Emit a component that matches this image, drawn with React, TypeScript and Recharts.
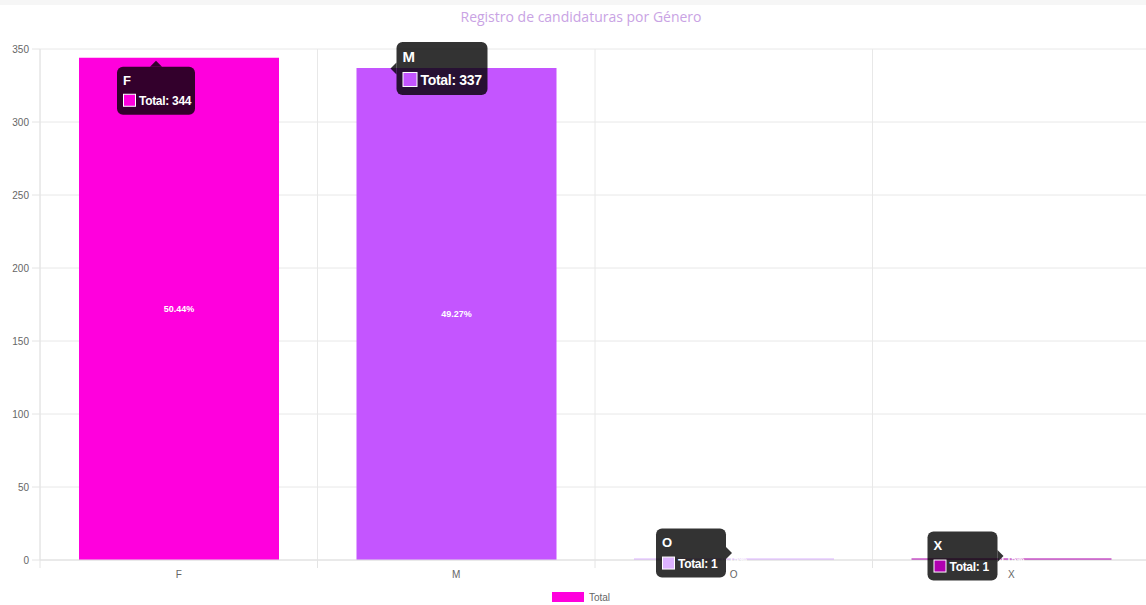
import React from 'react';
import { BarChart, Bar, XAxis, YAxis, CartesianGrid, Legend, LabelList, Cell } from 'recharts';

const categories = ['F', 'M', 'O', 'X'];
const totals = [344, 337, 1, 1];
const percentLabels = ['50.44%', '49.27%', '0.15%', '0.15%'];
const barColors = ['#ff00dd', '#c455ff', '#dcb2ff', '#b000b0'];
const yTicks = [0, 50, 100, 150, 200, 250, 300, 350];
const seriesName = 'Total';
const title = 'Registro de candidaturas por Género';

// where each (hovered) tooltip box sits relative to its bar
const tipLayout = [
  { dx: 38, dy: 9, w: 78, h: 48, caret: 'top', fs: 12 },
  { dx: 40, dy: -26, w: 91, h: 53, caret: 'left', fs: 14 },
  { dx: 22, dy: -30, w: 70, h: 49, caret: 'right', fs: 12 },
  { dx: 16, dy: -27, w: 70, h: 49, caret: 'right', fs: 12 },
];

const data = categories.map((c, i) => ({ name: c, total: totals[i], pct: percentLabels[i] }));

const W = 1150;
const H = 605;
const M = { top: 49, right: 0, left: 0, bottom: 3 };
const Y_W = 40;
const HALF_STEP = (W - Y_W) / categories.length / 2;
const FONT = '"Liberation Sans", Arial, sans-serif';

const XTick = (props: any) => {
  const { x, y, payload, index } = props;
  return (
    <g>
      <line x1={x - HALF_STEP} x2={x - HALF_STEP} y1={y} y2={y + 8} stroke="#e4e4e4" />
      {index === categories.length - 1 && (
        <line x1={x + HALF_STEP} x2={x + HALF_STEP} y1={y} y2={y + 8} stroke="#e4e4e4" />
      )}
      <text x={x} y={y + 18} textAnchor="middle" fontSize={10} fill="#666" fontFamily={FONT}>
        {payload.value}
      </text>
    </g>
  );
};

const TipBox = (props: any) => {
  const { x, y, value } = props;
  const i = categories.indexOf(value);
  if (i < 0) return null;
  const t = tipLayout[i];
  const bx = x + t.dx;
  const by = y + t.dy;
  let caret = '';
  if (t.caret === 'top') {
    const cx = bx + t.w / 2;
    caret = `M${cx - 6},${by} L${cx},${by - 6} L${cx + 6},${by} Z`;
  } else if (t.caret === 'left') {
    const cy = by + t.h / 2;
    caret = `M${bx},${cy - 6} L${bx - 6},${cy} L${bx},${cy + 6} Z`;
  } else {
    const cy = by + t.h / 2;
    caret = `M${bx + t.w},${cy - 6} L${bx + t.w + 6},${cy} L${bx + t.w},${cy + 6} Z`;
  }
  const sw = t.fs;
  return (
    <g fontFamily={FONT}>
      <rect x={bx} y={by} width={t.w} height={t.h} rx={6} fill="rgba(0,0,0,0.8)" />
      <path d={caret} fill="rgba(0,0,0,0.8)" />
      <text x={bx + 6} y={by + t.fs + 6} fontSize={t.fs + 1} fontWeight="bold" fill="#fff">
        {value}
      </text>
      <rect x={bx + 6.5} y={by + t.h - sw - 8.5} width={sw} height={sw} fill={barColors[i]} stroke="#fff" strokeWidth={1} />
      <text x={bx + 8 + sw + 2} y={by + t.h - 10} fontSize={t.fs} fontWeight="bold" fill="#fff" letterSpacing={-0.3}>
        {`${seriesName}: ${totals[i]}`}
      </text>
    </g>
  );
};

const LegendBox = () => (
  <div
    style={{
      display: 'flex', justifyContent: 'center', alignItems: 'center', height: 22,
      paddingLeft: 12, fontFamily: FONT, fontSize: 10, color: '#666',
    }}
  >
    <span style={{ display: 'inline-block', width: 32, height: 10, background: barColors[0], marginRight: 5 }} />
    <span>{seriesName}</span>
  </div>
);

export default function App() {
  return (
    <div style={{ position: 'absolute', left: 0, top: 0, width: 1146, height: 605, overflow: 'hidden', background: '#fff' }}>
      <div style={{ position: 'absolute', left: 0, top: 0, width: 1146, height: 5, background: '#f6f6f6' }} />
      <div
        style={{
          position: 'absolute', left: 0, top: 7, width: 1162, textAlign: 'center',
          fontFamily: '"Open Sans", sans-serif', fontSize: 14, color: '#c9a3e4',
        }}
      >
        {title}
      </div>
      <BarChart width={W} height={H} data={data} margin={M} barSize={200}>
        <CartesianGrid
          stroke="#e8e8e8"
          verticalCoordinatesGenerator={({ offset }: any) =>
            categories.map((_, i) => offset.left + (i * offset.width) / categories.length).concat([offset.left + offset.width])
          }
        />
        <XAxis dataKey="name" height={20} tickLine={false} axisLine={{ stroke: '#e0e0e0' }} tickSize={0} tickMargin={0} tick={<XTick />} interval={0} />
        <YAxis
          width={Y_W}
          domain={[0, 350]}
          ticks={yTicks}
          tickSize={8}
          tickMargin={3}
          tickLine={{ stroke: '#e4e4e4' }}
          axisLine={{ stroke: '#e4e4e4' }}
          tick={{ fontSize: 10, fill: '#666', fontFamily: FONT }}
        />
        <Legend verticalAlign="bottom" height={22} wrapperStyle={{ bottom: -3 }} content={<LegendBox />} />
        <Bar dataKey="total" name={seriesName} isAnimationActive={false}>
          {data.map((d, i) => (
            <Cell key={d.name} fill={barColors[i]} />
          ))}
          <LabelList dataKey="pct" position="center" fill="#fff" fontSize={9} fontWeight="bold" fontFamily={FONT} />
          <LabelList dataKey="name" content={<TipBox />} />
        </Bar>
      </BarChart>
    </div>
  );
}
